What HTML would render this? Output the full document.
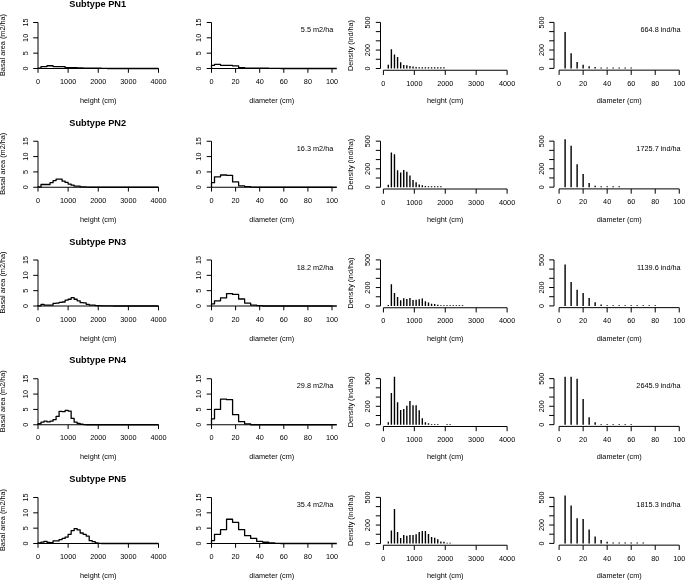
<!DOCTYPE html>
<html><head><meta charset="utf-8"><style>
html,body{margin:0;padding:0;background:#fff;}
body{width:685px;height:580px;overflow:hidden;}
svg{display:block;will-change:transform;}
.t{font-family:"Liberation Sans",sans-serif;font-size:7.3px;fill:#000;}
.ti{font-family:"Liberation Sans",sans-serif;font-size:9.2px;font-weight:bold;fill:#000;}
.ax{fill:none;stroke:#000;stroke-width:1;}
.dl{fill:none;stroke:#000;stroke-width:1.3;stroke-linejoin:round;}
.br{fill:none;stroke:#000;stroke-width:1.4;stroke-linecap:butt;}
</style></head><body>
<svg width="685" height="580" viewBox="0 0 685 580">
<rect width="685" height="580" fill="#fff"/>
<text class="ti" transform="translate(97.7 7)" text-anchor="middle">Subtype PN1</text>
<path class="ax" d="M38 68.5V22.5M38 68.5H33.2M38 53.17H33.2M38 37.83H33.2M38 22.5H33.2M38 68.5H158.5M38 68.5V72.8M68.12 68.5V72.8M98.25 68.5V72.8M128.38 68.5V72.8M158.5 68.5V72.8"/>
<text class="t" transform="translate(27.7 68.5) rotate(-90)" text-anchor="middle">0</text>
<text class="t" transform="translate(27.7 53.17) rotate(-90)" text-anchor="middle">5</text>
<text class="t" transform="translate(27.7 37.83) rotate(-90)" text-anchor="middle">10</text>
<text class="t" transform="translate(27.7 22.5) rotate(-90)" text-anchor="middle">15</text>
<text class="t" transform="translate(38 84)" text-anchor="middle">0</text>
<text class="t" transform="translate(68.12 84)" text-anchor="middle">1000</text>
<text class="t" transform="translate(98.25 84)" text-anchor="middle">2000</text>
<text class="t" transform="translate(128.38 84)" text-anchor="middle">3000</text>
<text class="t" transform="translate(158.5 84)" text-anchor="middle">4000</text>
<text class="t" transform="translate(4.9 45) rotate(-90)" text-anchor="middle">Basal area (m2/ha)</text>
<text class="t" transform="translate(98.25 103.1)" text-anchor="middle">height (cm)</text>
<path class="dl" d="M38 68.5V68.19H41.01V66.6H44.02V66.6H47.04V65.74H50.05V65.74H53.06V66.6H56.08V66.6H59.09V66.6H62.1V66.6H65.11V67.73H68.12V67.73H71.14V67.73H74.15V67.73H77.16V67.89H80.17V67.89H83.19V68.04H86.2V68.04H89.21V68.13H92.22V68.13H95.24V68.19H98.25V68.25H101.26V68.35H104.28V68.35H107.29V68.5H158.5"/>
<path class="ax" d="M211.5 68.5V22.5M211.5 68.5H206.7M211.5 53.17H206.7M211.5 37.83H206.7M211.5 22.5H206.7M211.5 68.5H332M211.5 68.5V72.8M235.6 68.5V72.8M259.7 68.5V72.8M283.8 68.5V72.8M307.9 68.5V72.8M332 68.5V72.8"/>
<text class="t" transform="translate(201.2 68.5) rotate(-90)" text-anchor="middle">0</text>
<text class="t" transform="translate(201.2 53.17) rotate(-90)" text-anchor="middle">5</text>
<text class="t" transform="translate(201.2 37.83) rotate(-90)" text-anchor="middle">10</text>
<text class="t" transform="translate(201.2 22.5) rotate(-90)" text-anchor="middle">15</text>
<text class="t" transform="translate(211.5 84)" text-anchor="middle">0</text>
<text class="t" transform="translate(235.6 84)" text-anchor="middle">20</text>
<text class="t" transform="translate(259.7 84)" text-anchor="middle">40</text>
<text class="t" transform="translate(283.8 84)" text-anchor="middle">60</text>
<text class="t" transform="translate(307.9 84)" text-anchor="middle">80</text>
<text class="t" transform="translate(332 84)" text-anchor="middle">100</text>
<text class="t" transform="translate(271.75 103.1)" text-anchor="middle">diameter (cm)</text>
<text class="t" transform="translate(333.3 32.2)" text-anchor="end">5.5 m2/ha</text>
<path class="dl" d="M211.5 68.5V65.31H214.51V64.39H220.54V65.37H226.56V65.37H232.59V65.89H238.61V67.58H244.64V68.04H250.66V68.19H256.69V68.25H262.71V68.25H268.74V68.32H274.76V68.38H280.79V68.5H336.82"/>
<path class="ax" d="M380.5 68.5V22.4M380.5 68.5H375.8M380.5 59.28H375.8M380.5 50.06H375.8M380.5 40.84H375.8M380.5 31.62H375.8M380.5 22.4H375.8M383.4 70.25H507.1M383.4 70.25V74.95M414.32 70.25V74.95M445.25 70.25V74.95M476.18 70.25V74.95M507.1 70.25V74.95"/>
<text class="t" transform="translate(370.2 68.5) rotate(-90)" text-anchor="middle">0</text>
<text class="t" transform="translate(370.2 50.06) rotate(-90)" text-anchor="middle">200</text>
<text class="t" transform="translate(370.2 22.4) rotate(-90)" text-anchor="middle">500</text>
<text class="t" transform="translate(383.4 85.8)" text-anchor="middle">0</text>
<text class="t" transform="translate(414.32 85.8)" text-anchor="middle">1000</text>
<text class="t" transform="translate(445.25 85.8)" text-anchor="middle">2000</text>
<text class="t" transform="translate(476.18 85.8)" text-anchor="middle">3000</text>
<text class="t" transform="translate(507.1 85.8)" text-anchor="middle">4000</text>
<text class="t" transform="translate(352.9 45.5) rotate(-90)" text-anchor="middle">Density (ind/ha)</text>
<text class="t" transform="translate(445.25 103)" text-anchor="middle">height (cm)</text>
<path class="br" d="M388.29 68.5V64.81M391.38 68.5V49.14M394.47 68.5V54.39M397.57 68.5V57.07M400.66 68.5V62.14M403.75 68.5V65M406.84 68.5V65.37M409.94 68.5V66.01M413.03 68.5V66.47M416.12 68.5V67.12M419.21 68.5V67.3M422.31 68.5V67.3M425.4 68.5V67.3M428.49 68.5V67.3M431.58 68.5V67.3M434.68 68.5V67.3M437.77 68.5V67.3M440.86 68.5V67.3M443.95 68.5V67.3"/>
<path class="ax" d="M554 68.4V22.4M554 68.4H549.2M554 59.2H549.2M554 50H549.2M554 40.8H549.2M554 31.6H549.2M554 22.4H549.2M559.1 70.15H679.25M559.1 70.15V74.95M583.13 70.15V74.95M607.16 70.15V74.95M631.19 70.15V74.95M655.22 70.15V74.95M679.25 70.15V74.95"/>
<text class="t" transform="translate(543.7 68.4) rotate(-90)" text-anchor="middle">0</text>
<text class="t" transform="translate(543.7 50) rotate(-90)" text-anchor="middle">200</text>
<text class="t" transform="translate(543.7 22.4) rotate(-90)" text-anchor="middle">500</text>
<text class="t" transform="translate(559.1 85.6)" text-anchor="middle">0</text>
<text class="t" transform="translate(583.13 85.6)" text-anchor="middle">20</text>
<text class="t" transform="translate(607.16 85.6)" text-anchor="middle">40</text>
<text class="t" transform="translate(631.19 85.6)" text-anchor="middle">60</text>
<text class="t" transform="translate(655.22 85.6)" text-anchor="middle">80</text>
<text class="t" transform="translate(679.25 85.6)" text-anchor="middle">100</text>
<text class="t" transform="translate(619.17 103)" text-anchor="middle">diameter (cm)</text>
<text class="t" transform="translate(680.6 32.2)" text-anchor="end">664.8 ind/ha</text>
<path class="br" d="M565.11 68.4V32.06M571.12 68.4V53.13M577.12 68.4V61.96M583.13 68.4V64.81M589.14 68.4V66.28M595.14 68.4V67.11M601.15 68.4V67.48M607.16 68.4V67.48M613.17 68.4V67.48M619.17 68.4V67.48M625.18 68.4V67.48M631.19 68.4V67.48"/>
<text class="ti" transform="translate(97.7 125.75)" text-anchor="middle">Subtype PN2</text>
<path class="ax" d="M38 187.25V141.25M38 187.25H33.2M38 171.92H33.2M38 156.58H33.2M38 141.25H33.2M38 187.25H158.5M38 187.25V191.55M68.12 187.25V191.55M98.25 187.25V191.55M128.38 187.25V191.55M158.5 187.25V191.55"/>
<text class="t" transform="translate(27.7 187.25) rotate(-90)" text-anchor="middle">0</text>
<text class="t" transform="translate(27.7 171.92) rotate(-90)" text-anchor="middle">5</text>
<text class="t" transform="translate(27.7 156.58) rotate(-90)" text-anchor="middle">10</text>
<text class="t" transform="translate(27.7 141.25) rotate(-90)" text-anchor="middle">15</text>
<text class="t" transform="translate(38 202.75)" text-anchor="middle">0</text>
<text class="t" transform="translate(68.12 202.75)" text-anchor="middle">1000</text>
<text class="t" transform="translate(98.25 202.75)" text-anchor="middle">2000</text>
<text class="t" transform="translate(128.38 202.75)" text-anchor="middle">3000</text>
<text class="t" transform="translate(158.5 202.75)" text-anchor="middle">4000</text>
<text class="t" transform="translate(4.9 163.75) rotate(-90)" text-anchor="middle">Basal area (m2/ha)</text>
<text class="t" transform="translate(98.25 221.85)" text-anchor="middle">height (cm)</text>
<path class="dl" d="M38 187.25V186.94H41.01V184.49H44.02V184.49H47.04V184.49H50.05V182.71H53.06V180.6H56.08V179.09H59.09V179.09H62.1V181.21H65.11V182.4H68.12V184.09H71.14V185.2H74.15V186.21H77.16V186.21H80.17V186.94H83.19V186.94H86.2V187.1H89.21V187.25H158.5"/>
<path class="ax" d="M211.5 187.25V141.25M211.5 187.25H206.7M211.5 171.92H206.7M211.5 156.58H206.7M211.5 141.25H206.7M211.5 187.25H332M211.5 187.25V191.55M235.6 187.25V191.55M259.7 187.25V191.55M283.8 187.25V191.55M307.9 187.25V191.55M332 187.25V191.55"/>
<text class="t" transform="translate(201.2 187.25) rotate(-90)" text-anchor="middle">0</text>
<text class="t" transform="translate(201.2 171.92) rotate(-90)" text-anchor="middle">5</text>
<text class="t" transform="translate(201.2 156.58) rotate(-90)" text-anchor="middle">10</text>
<text class="t" transform="translate(201.2 141.25) rotate(-90)" text-anchor="middle">15</text>
<text class="t" transform="translate(211.5 202.75)" text-anchor="middle">0</text>
<text class="t" transform="translate(235.6 202.75)" text-anchor="middle">20</text>
<text class="t" transform="translate(259.7 202.75)" text-anchor="middle">40</text>
<text class="t" transform="translate(283.8 202.75)" text-anchor="middle">60</text>
<text class="t" transform="translate(307.9 202.75)" text-anchor="middle">80</text>
<text class="t" transform="translate(332 202.75)" text-anchor="middle">100</text>
<text class="t" transform="translate(271.75 221.85)" text-anchor="middle">diameter (cm)</text>
<text class="t" transform="translate(333.3 150.95)" text-anchor="end">16.3 m2/ha</text>
<path class="dl" d="M211.5 187.25V182.65H214.51V176.82H220.54V174.98H226.56V175.35H232.59V181.91H238.61V185.78H244.64V186.67H250.66V187.04H256.69V187.25H336.82"/>
<path class="ax" d="M380.5 187.25V141.15M380.5 187.25H375.8M380.5 178.03H375.8M380.5 168.81H375.8M380.5 159.59H375.8M380.5 150.37H375.8M380.5 141.15H375.8M383.4 189H507.1M383.4 189V193.7M414.32 189V193.7M445.25 189V193.7M476.18 189V193.7M507.1 189V193.7"/>
<text class="t" transform="translate(370.2 187.25) rotate(-90)" text-anchor="middle">0</text>
<text class="t" transform="translate(370.2 168.81) rotate(-90)" text-anchor="middle">200</text>
<text class="t" transform="translate(370.2 141.15) rotate(-90)" text-anchor="middle">500</text>
<text class="t" transform="translate(383.4 204.55)" text-anchor="middle">0</text>
<text class="t" transform="translate(414.32 204.55)" text-anchor="middle">1000</text>
<text class="t" transform="translate(445.25 204.55)" text-anchor="middle">2000</text>
<text class="t" transform="translate(476.18 204.55)" text-anchor="middle">3000</text>
<text class="t" transform="translate(507.1 204.55)" text-anchor="middle">4000</text>
<text class="t" transform="translate(352.9 164.25) rotate(-90)" text-anchor="middle">Density (ind/ha)</text>
<text class="t" transform="translate(445.25 221.75)" text-anchor="middle">height (cm)</text>
<path class="br" d="M388.29 187.25V184.67M391.38 187.25V152.49M394.47 187.25V154.33M397.57 187.25V170.19M400.66 187.25V172.41M403.75 187.25V170.01M406.84 187.25V171.67M409.94 187.25V175.54M413.03 187.25V180.06M416.12 187.25V182.36M419.21 187.25V184.39M422.31 187.25V185.22M425.4 187.25V185.96M428.49 187.25V186.14M431.58 187.25V186.14M434.68 187.25V186.14M437.77 187.25V186.14M440.86 187.25V186.33"/>
<path class="ax" d="M554 187.15V141.15M554 187.15H549.2M554 177.95H549.2M554 168.75H549.2M554 159.55H549.2M554 150.35H549.2M554 141.15H549.2M559.1 188.9H679.25M559.1 188.9V193.7M583.13 188.9V193.7M607.16 188.9V193.7M631.19 188.9V193.7M655.22 188.9V193.7M679.25 188.9V193.7"/>
<text class="t" transform="translate(543.7 187.15) rotate(-90)" text-anchor="middle">0</text>
<text class="t" transform="translate(543.7 168.75) rotate(-90)" text-anchor="middle">200</text>
<text class="t" transform="translate(543.7 141.15) rotate(-90)" text-anchor="middle">500</text>
<text class="t" transform="translate(559.1 204.35)" text-anchor="middle">0</text>
<text class="t" transform="translate(583.13 204.35)" text-anchor="middle">20</text>
<text class="t" transform="translate(607.16 204.35)" text-anchor="middle">40</text>
<text class="t" transform="translate(631.19 204.35)" text-anchor="middle">60</text>
<text class="t" transform="translate(655.22 204.35)" text-anchor="middle">80</text>
<text class="t" transform="translate(679.25 204.35)" text-anchor="middle">100</text>
<text class="t" transform="translate(619.17 221.75)" text-anchor="middle">diameter (cm)</text>
<text class="t" transform="translate(680.6 150.95)" text-anchor="end">1725.7 ind/ha</text>
<path class="br" d="M565.11 187.15V139.31M571.12 187.15V145.75M577.12 187.15V164.15M583.13 187.15V174.09M589.14 187.15V183.1M595.14 187.15V185.77M601.15 187.15V186.23M607.16 187.15V186.23M613.17 187.15V186.23M619.17 187.15V186.23"/>
<text class="ti" transform="translate(97.7 244.5)" text-anchor="middle">Subtype PN3</text>
<path class="ax" d="M38 306V260M38 306H33.2M38 290.67H33.2M38 275.33H33.2M38 260H33.2M38 306H158.5M38 306V310.3M68.12 306V310.3M98.25 306V310.3M128.38 306V310.3M158.5 306V310.3"/>
<text class="t" transform="translate(27.7 306) rotate(-90)" text-anchor="middle">0</text>
<text class="t" transform="translate(27.7 290.67) rotate(-90)" text-anchor="middle">5</text>
<text class="t" transform="translate(27.7 275.33) rotate(-90)" text-anchor="middle">10</text>
<text class="t" transform="translate(27.7 260) rotate(-90)" text-anchor="middle">15</text>
<text class="t" transform="translate(38 321.5)" text-anchor="middle">0</text>
<text class="t" transform="translate(68.12 321.5)" text-anchor="middle">1000</text>
<text class="t" transform="translate(98.25 321.5)" text-anchor="middle">2000</text>
<text class="t" transform="translate(128.38 321.5)" text-anchor="middle">3000</text>
<text class="t" transform="translate(158.5 321.5)" text-anchor="middle">4000</text>
<text class="t" transform="translate(4.9 282.5) rotate(-90)" text-anchor="middle">Basal area (m2/ha)</text>
<text class="t" transform="translate(98.25 340.6)" text-anchor="middle">height (cm)</text>
<path class="dl" d="M38 306V305.85H41.01V304.31H44.02V305.08H47.04V305.08H50.05V305.08H53.06V303.3H56.08V303.09H59.09V302.32H62.1V302.01H65.11V300.17H68.12V299.25H71.14V297.72H74.15V299.25H77.16V300.79H80.17V302.63H83.19V302.78H86.2V304.31H89.21V305.08H92.22V305.08H95.24V305.54H98.25V305.54H101.26V305.85H104.28V305.85H107.29V305.85H110.3V305.85H113.31V306H158.5"/>
<path class="ax" d="M211.5 306V260M211.5 306H206.7M211.5 290.67H206.7M211.5 275.33H206.7M211.5 260H206.7M211.5 306H332M211.5 306V310.3M235.6 306V310.3M259.7 306V310.3M283.8 306V310.3M307.9 306V310.3M332 306V310.3"/>
<text class="t" transform="translate(201.2 306) rotate(-90)" text-anchor="middle">0</text>
<text class="t" transform="translate(201.2 290.67) rotate(-90)" text-anchor="middle">5</text>
<text class="t" transform="translate(201.2 275.33) rotate(-90)" text-anchor="middle">10</text>
<text class="t" transform="translate(201.2 260) rotate(-90)" text-anchor="middle">15</text>
<text class="t" transform="translate(211.5 321.5)" text-anchor="middle">0</text>
<text class="t" transform="translate(235.6 321.5)" text-anchor="middle">20</text>
<text class="t" transform="translate(259.7 321.5)" text-anchor="middle">40</text>
<text class="t" transform="translate(283.8 321.5)" text-anchor="middle">60</text>
<text class="t" transform="translate(307.9 321.5)" text-anchor="middle">80</text>
<text class="t" transform="translate(332 321.5)" text-anchor="middle">100</text>
<text class="t" transform="translate(271.75 340.6)" text-anchor="middle">diameter (cm)</text>
<text class="t" transform="translate(333.3 269.7)" text-anchor="end">18.2 m2/ha</text>
<path class="dl" d="M211.5 306V303.82H214.51V300.82H220.54V297.9H226.56V293.58H232.59V294.47H238.61V298.98H244.64V303.09H250.66V305.05H256.69V305.57H262.71V306H336.82"/>
<path class="ax" d="M380.5 306V259.9M380.5 306H375.8M380.5 296.78H375.8M380.5 287.56H375.8M380.5 278.34H375.8M380.5 269.12H375.8M380.5 259.9H375.8M383.4 307.75H507.1M383.4 307.75V312.45M414.32 307.75V312.45M445.25 307.75V312.45M476.18 307.75V312.45M507.1 307.75V312.45"/>
<text class="t" transform="translate(370.2 306) rotate(-90)" text-anchor="middle">0</text>
<text class="t" transform="translate(370.2 287.56) rotate(-90)" text-anchor="middle">200</text>
<text class="t" transform="translate(370.2 259.9) rotate(-90)" text-anchor="middle">500</text>
<text class="t" transform="translate(383.4 323.3)" text-anchor="middle">0</text>
<text class="t" transform="translate(414.32 323.3)" text-anchor="middle">1000</text>
<text class="t" transform="translate(445.25 323.3)" text-anchor="middle">2000</text>
<text class="t" transform="translate(476.18 323.3)" text-anchor="middle">3000</text>
<text class="t" transform="translate(507.1 323.3)" text-anchor="middle">4000</text>
<text class="t" transform="translate(352.9 283) rotate(-90)" text-anchor="middle">Density (ind/ha)</text>
<text class="t" transform="translate(445.25 340.5)" text-anchor="middle">height (cm)</text>
<path class="br" d="M388.29 306V304.99M391.38 306V284.15M394.47 306V292.91M397.57 306V297.06M400.66 306V300.19M403.75 306V298.35M406.84 306V298.99M409.94 306V297.98M413.03 306V300.01M416.12 306V299.82M419.21 306V299.18M422.31 306V298.44M425.4 306V301.21M428.49 306V302.5M431.58 306V303.69M434.68 306V303.97M437.77 306V304.71M440.86 306V305.26M443.95 306V305.26M447.05 306V305.26M450.14 306V305.26M453.23 306V305.26M456.32 306V305.26M459.42 306V305.26M462.51 306V305.26"/>
<path class="ax" d="M554 305.9V259.9M554 305.9H549.2M554 296.7H549.2M554 287.5H549.2M554 278.3H549.2M554 269.1H549.2M554 259.9H549.2M559.1 307.65H679.25M559.1 307.65V312.45M583.13 307.65V312.45M607.16 307.65V312.45M631.19 307.65V312.45M655.22 307.65V312.45M679.25 307.65V312.45"/>
<text class="t" transform="translate(543.7 305.9) rotate(-90)" text-anchor="middle">0</text>
<text class="t" transform="translate(543.7 287.5) rotate(-90)" text-anchor="middle">200</text>
<text class="t" transform="translate(543.7 259.9) rotate(-90)" text-anchor="middle">500</text>
<text class="t" transform="translate(559.1 323.1)" text-anchor="middle">0</text>
<text class="t" transform="translate(583.13 323.1)" text-anchor="middle">20</text>
<text class="t" transform="translate(607.16 323.1)" text-anchor="middle">40</text>
<text class="t" transform="translate(631.19 323.1)" text-anchor="middle">60</text>
<text class="t" transform="translate(655.22 323.1)" text-anchor="middle">80</text>
<text class="t" transform="translate(679.25 323.1)" text-anchor="middle">100</text>
<text class="t" transform="translate(619.17 340.5)" text-anchor="middle">diameter (cm)</text>
<text class="t" transform="translate(680.6 269.7)" text-anchor="end">1139.6 ind/ha</text>
<path class="br" d="M565.11 305.9V264.59M571.12 305.9V282.07M577.12 305.9V289.8M583.13 305.9V293.02M589.14 305.9V297.9M595.14 305.9V302.22M601.15 305.9V304.43M607.16 305.9V305.16M613.17 305.9V305.16M619.17 305.9V305.16M625.18 305.9V305.16M631.19 305.9V305.16M637.2 305.9V305.16M643.21 305.9V305.16M649.21 305.9V305.16M655.22 305.9V305.16"/>
<text class="ti" transform="translate(97.7 363.25)" text-anchor="middle">Subtype PN4</text>
<path class="ax" d="M38 424.75V378.75M38 424.75H33.2M38 409.42H33.2M38 394.08H33.2M38 378.75H33.2M38 424.75H158.5M38 424.75V429.05M68.12 424.75V429.05M98.25 424.75V429.05M128.38 424.75V429.05M158.5 424.75V429.05"/>
<text class="t" transform="translate(27.7 424.75) rotate(-90)" text-anchor="middle">0</text>
<text class="t" transform="translate(27.7 409.42) rotate(-90)" text-anchor="middle">5</text>
<text class="t" transform="translate(27.7 394.08) rotate(-90)" text-anchor="middle">10</text>
<text class="t" transform="translate(27.7 378.75) rotate(-90)" text-anchor="middle">15</text>
<text class="t" transform="translate(38 440.25)" text-anchor="middle">0</text>
<text class="t" transform="translate(68.12 440.25)" text-anchor="middle">1000</text>
<text class="t" transform="translate(98.25 440.25)" text-anchor="middle">2000</text>
<text class="t" transform="translate(128.38 440.25)" text-anchor="middle">3000</text>
<text class="t" transform="translate(158.5 440.25)" text-anchor="middle">4000</text>
<text class="t" transform="translate(4.9 401.25) rotate(-90)" text-anchor="middle">Basal area (m2/ha)</text>
<text class="t" transform="translate(98.25 459.35)" text-anchor="middle">height (cm)</text>
<path class="dl" d="M38 424.75V423.74H41.01V422.2H44.02V421.16H47.04V421.9H50.05V421.16H53.06V419.63H56.08V416.38H59.09V411.47H62.1V411.66H65.11V410.43H68.12V411.04H71.14V418.4H74.15V422.2H77.16V423.52H80.17V424.23H83.19V424.6H86.2V424.75H158.5"/>
<path class="ax" d="M211.5 424.75V378.75M211.5 424.75H206.7M211.5 409.42H206.7M211.5 394.08H206.7M211.5 378.75H206.7M211.5 424.75H332M211.5 424.75V429.05M235.6 424.75V429.05M259.7 424.75V429.05M283.8 424.75V429.05M307.9 424.75V429.05M332 424.75V429.05"/>
<text class="t" transform="translate(201.2 424.75) rotate(-90)" text-anchor="middle">0</text>
<text class="t" transform="translate(201.2 409.42) rotate(-90)" text-anchor="middle">5</text>
<text class="t" transform="translate(201.2 394.08) rotate(-90)" text-anchor="middle">10</text>
<text class="t" transform="translate(201.2 378.75) rotate(-90)" text-anchor="middle">15</text>
<text class="t" transform="translate(211.5 440.25)" text-anchor="middle">0</text>
<text class="t" transform="translate(235.6 440.25)" text-anchor="middle">20</text>
<text class="t" transform="translate(259.7 440.25)" text-anchor="middle">40</text>
<text class="t" transform="translate(283.8 440.25)" text-anchor="middle">60</text>
<text class="t" transform="translate(307.9 440.25)" text-anchor="middle">80</text>
<text class="t" transform="translate(332 440.25)" text-anchor="middle">100</text>
<text class="t" transform="translate(271.75 459.35)" text-anchor="middle">diameter (cm)</text>
<text class="t" transform="translate(333.3 388.45)" text-anchor="end">29.8 m2/ha</text>
<path class="dl" d="M211.5 424.75V418.86H214.51V409.29H220.54V399.2H226.56V399.7H232.59V414.66H238.61V421.71H244.64V423.95H250.66V424.75H336.82"/>
<path class="ax" d="M380.5 424.75V378.65M380.5 424.75H375.8M380.5 415.53H375.8M380.5 406.31H375.8M380.5 397.09H375.8M380.5 387.87H375.8M380.5 378.65H375.8M383.4 426.5H507.1M383.4 426.5V431.2M414.32 426.5V431.2M445.25 426.5V431.2M476.18 426.5V431.2M507.1 426.5V431.2"/>
<text class="t" transform="translate(370.2 424.75) rotate(-90)" text-anchor="middle">0</text>
<text class="t" transform="translate(370.2 406.31) rotate(-90)" text-anchor="middle">200</text>
<text class="t" transform="translate(370.2 378.65) rotate(-90)" text-anchor="middle">500</text>
<text class="t" transform="translate(383.4 442.05)" text-anchor="middle">0</text>
<text class="t" transform="translate(414.32 442.05)" text-anchor="middle">1000</text>
<text class="t" transform="translate(445.25 442.05)" text-anchor="middle">2000</text>
<text class="t" transform="translate(476.18 442.05)" text-anchor="middle">3000</text>
<text class="t" transform="translate(507.1 442.05)" text-anchor="middle">4000</text>
<text class="t" transform="translate(352.9 401.75) rotate(-90)" text-anchor="middle">Density (ind/ha)</text>
<text class="t" transform="translate(445.25 459.25)" text-anchor="middle">height (cm)</text>
<path class="br" d="M388.29 424.75V422.17M391.38 424.75V393.03M394.47 424.75V376.81M397.57 424.75V402.25M400.66 424.75V410.09M403.75 424.75V409.08M406.84 424.75V405.85M409.94 424.75V400.96M413.03 424.75V405.3M416.12 424.75V405.3M419.21 424.75V410.27M422.31 424.75V418.3M425.4 424.75V422.17M428.49 424.75V423.18M431.58 424.75V424.01M434.68 424.75V424.01M437.77 424.75V424.01M447.05 424.75V424.01M450.14 424.75V424.01"/>
<path class="ax" d="M554 424.65V378.65M554 424.65H549.2M554 415.45H549.2M554 406.25H549.2M554 397.05H549.2M554 387.85H549.2M554 378.65H549.2M559.1 426.4H679.25M559.1 426.4V431.2M583.13 426.4V431.2M607.16 426.4V431.2M631.19 426.4V431.2M655.22 426.4V431.2M679.25 426.4V431.2"/>
<text class="t" transform="translate(543.7 424.65) rotate(-90)" text-anchor="middle">0</text>
<text class="t" transform="translate(543.7 406.25) rotate(-90)" text-anchor="middle">200</text>
<text class="t" transform="translate(543.7 378.65) rotate(-90)" text-anchor="middle">500</text>
<text class="t" transform="translate(559.1 441.85)" text-anchor="middle">0</text>
<text class="t" transform="translate(583.13 441.85)" text-anchor="middle">20</text>
<text class="t" transform="translate(607.16 441.85)" text-anchor="middle">40</text>
<text class="t" transform="translate(631.19 441.85)" text-anchor="middle">60</text>
<text class="t" transform="translate(655.22 441.85)" text-anchor="middle">80</text>
<text class="t" transform="translate(679.25 441.85)" text-anchor="middle">100</text>
<text class="t" transform="translate(619.17 459.25)" text-anchor="middle">diameter (cm)</text>
<text class="t" transform="translate(680.6 388.45)" text-anchor="end">2645.9 ind/ha</text>
<path class="br" d="M565.11 424.65V376.81M571.12 424.65V376.81M577.12 424.65V378.74M583.13 424.65V398.89M589.14 424.65V417.29M595.14 424.65V422.35M601.15 424.65V423.91M607.16 424.65V423.91M613.17 424.65V423.91M619.17 424.65V423.91M625.18 424.65V423.91M631.19 424.65V423.91"/>
<text class="ti" transform="translate(97.7 482)" text-anchor="middle">Subtype PN5</text>
<path class="ax" d="M38 543.5V497.5M38 543.5H33.2M38 528.17H33.2M38 512.83H33.2M38 497.5H33.2M38 543.5H158.5M38 543.5V547.8M68.12 543.5V547.8M98.25 543.5V547.8M128.38 543.5V547.8M158.5 543.5V547.8"/>
<text class="t" transform="translate(27.7 543.5) rotate(-90)" text-anchor="middle">0</text>
<text class="t" transform="translate(27.7 528.17) rotate(-90)" text-anchor="middle">5</text>
<text class="t" transform="translate(27.7 512.83) rotate(-90)" text-anchor="middle">10</text>
<text class="t" transform="translate(27.7 497.5) rotate(-90)" text-anchor="middle">15</text>
<text class="t" transform="translate(38 559)" text-anchor="middle">0</text>
<text class="t" transform="translate(68.12 559)" text-anchor="middle">1000</text>
<text class="t" transform="translate(98.25 559)" text-anchor="middle">2000</text>
<text class="t" transform="translate(128.38 559)" text-anchor="middle">3000</text>
<text class="t" transform="translate(158.5 559)" text-anchor="middle">4000</text>
<text class="t" transform="translate(4.9 520) rotate(-90)" text-anchor="middle">Basal area (m2/ha)</text>
<text class="t" transform="translate(98.25 578.1)" text-anchor="middle">height (cm)</text>
<path class="dl" d="M38 543.5V542.89H41.01V542.18H44.02V541.35H47.04V542.49H50.05V542.67H53.06V540.95H56.08V540.95H59.09V539.61H62.1V538.38H65.11V537.06H68.12V534.3H71.14V530.62H74.15V528.57H77.16V529.91H80.17V532.98H83.19V534.3H86.2V536.05H89.21V540.65H92.22V541.66H95.24V542.89H98.25V543.35H101.26V543.5H158.5"/>
<path class="ax" d="M211.5 543.5V497.5M211.5 543.5H206.7M211.5 528.17H206.7M211.5 512.83H206.7M211.5 497.5H206.7M211.5 543.5H332M211.5 543.5V547.8M235.6 543.5V547.8M259.7 543.5V547.8M283.8 543.5V547.8M307.9 543.5V547.8M332 543.5V547.8"/>
<text class="t" transform="translate(201.2 543.5) rotate(-90)" text-anchor="middle">0</text>
<text class="t" transform="translate(201.2 528.17) rotate(-90)" text-anchor="middle">5</text>
<text class="t" transform="translate(201.2 512.83) rotate(-90)" text-anchor="middle">10</text>
<text class="t" transform="translate(201.2 497.5) rotate(-90)" text-anchor="middle">15</text>
<text class="t" transform="translate(211.5 559)" text-anchor="middle">0</text>
<text class="t" transform="translate(235.6 559)" text-anchor="middle">20</text>
<text class="t" transform="translate(259.7 559)" text-anchor="middle">40</text>
<text class="t" transform="translate(283.8 559)" text-anchor="middle">60</text>
<text class="t" transform="translate(307.9 559)" text-anchor="middle">80</text>
<text class="t" transform="translate(332 559)" text-anchor="middle">100</text>
<text class="t" transform="translate(271.75 578.1)" text-anchor="middle">diameter (cm)</text>
<text class="t" transform="translate(333.3 507.2)" text-anchor="end">35.4 m2/ha</text>
<path class="dl" d="M211.5 543.5V540.59H214.51V534.3H220.54V529.7H226.56V519.27H232.59V522.37H238.61V529.7H244.64V535.65H250.66V538.29H256.69V541.41H262.71V542.24H268.74V542.98H274.76V543.29H280.79V543.5H336.82"/>
<path class="ax" d="M380.5 543.5V497.4M380.5 543.5H375.8M380.5 534.28H375.8M380.5 525.06H375.8M380.5 515.84H375.8M380.5 506.62H375.8M380.5 497.4H375.8M383.4 545.25H507.1M383.4 545.25V549.95M414.32 545.25V549.95M445.25 545.25V549.95M476.18 545.25V549.95M507.1 545.25V549.95"/>
<text class="t" transform="translate(370.2 543.5) rotate(-90)" text-anchor="middle">0</text>
<text class="t" transform="translate(370.2 525.06) rotate(-90)" text-anchor="middle">200</text>
<text class="t" transform="translate(370.2 497.4) rotate(-90)" text-anchor="middle">500</text>
<text class="t" transform="translate(383.4 560.8)" text-anchor="middle">0</text>
<text class="t" transform="translate(414.32 560.8)" text-anchor="middle">1000</text>
<text class="t" transform="translate(445.25 560.8)" text-anchor="middle">2000</text>
<text class="t" transform="translate(476.18 560.8)" text-anchor="middle">3000</text>
<text class="t" transform="translate(507.1 560.8)" text-anchor="middle">4000</text>
<text class="t" transform="translate(352.9 520.5) rotate(-90)" text-anchor="middle">Density (ind/ha)</text>
<text class="t" transform="translate(445.25 578)" text-anchor="middle">height (cm)</text>
<path class="br" d="M388.29 543.5V541.38M391.38 543.5V530.41M394.47 543.5V508.92M397.57 543.5V531.98M400.66 543.5V537.97M403.75 543.5V535.02M406.84 543.5V535.76M409.94 543.5V534.93M413.03 543.5V535.02M416.12 543.5V534.19M419.21 543.5V531.98M422.31 543.5V530.96M425.4 543.5V530.96M428.49 543.5V533.91M431.58 543.5V536.95M434.68 543.5V537.78M437.77 543.5V539.35M440.86 543.5V541.38M443.95 543.5V541.84M447.05 543.5V542.67M450.14 543.5V542.85"/>
<path class="ax" d="M554 543.4V497.4M554 543.4H549.2M554 534.2H549.2M554 525H549.2M554 515.8H549.2M554 506.6H549.2M554 497.4H549.2M559.1 545.15H679.25M559.1 545.15V549.95M583.13 545.15V549.95M607.16 545.15V549.95M631.19 545.15V549.95M655.22 545.15V549.95M679.25 545.15V549.95"/>
<text class="t" transform="translate(543.7 543.4) rotate(-90)" text-anchor="middle">0</text>
<text class="t" transform="translate(543.7 525) rotate(-90)" text-anchor="middle">200</text>
<text class="t" transform="translate(543.7 497.4) rotate(-90)" text-anchor="middle">500</text>
<text class="t" transform="translate(559.1 560.6)" text-anchor="middle">0</text>
<text class="t" transform="translate(583.13 560.6)" text-anchor="middle">20</text>
<text class="t" transform="translate(607.16 560.6)" text-anchor="middle">40</text>
<text class="t" transform="translate(631.19 560.6)" text-anchor="middle">60</text>
<text class="t" transform="translate(655.22 560.6)" text-anchor="middle">80</text>
<text class="t" transform="translate(679.25 560.6)" text-anchor="middle">100</text>
<text class="t" transform="translate(619.17 578)" text-anchor="middle">diameter (cm)</text>
<text class="t" transform="translate(680.6 507.2)" text-anchor="end">1815.3 ind/ha</text>
<path class="br" d="M565.11 543.4V495.56M571.12 543.4V505.4M577.12 543.4V518.19M583.13 543.4V519.11M589.14 543.4V529.6M595.14 543.4V536.59M601.15 543.4V540.09M607.16 543.4V541.84M613.17 543.4V542.48M619.17 543.4V542.48M625.18 543.4V542.48M631.19 543.4V542.48M637.2 543.4V542.48M643.21 543.4V542.48"/>
</svg>
</body></html>
